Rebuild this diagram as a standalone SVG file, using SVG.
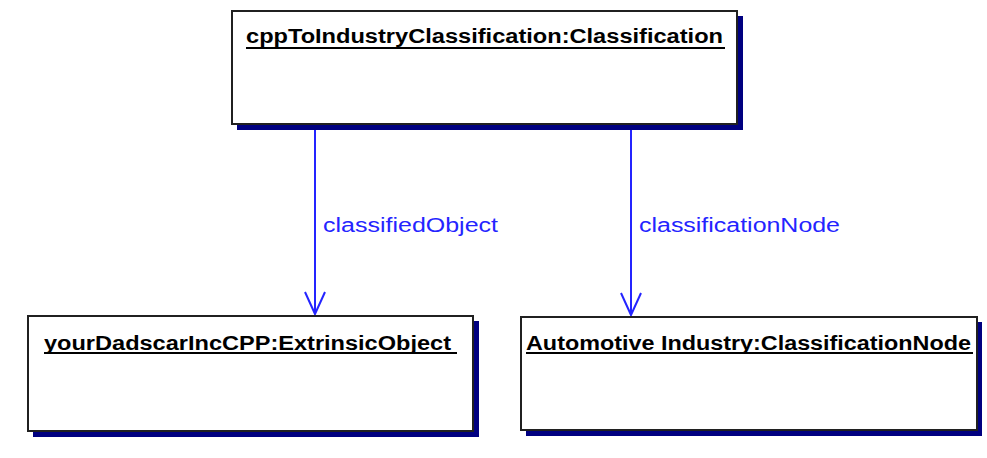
<svg xmlns="http://www.w3.org/2000/svg" width="987" height="458" viewBox="0 0 987 458">
  <style>
    .shadow { fill: #000080; }
    .box { fill: #ffffff; stroke: #202020; stroke-width: 2; }
    .title { font-family: "Liberation Sans", Arial, sans-serif; font-weight: bold; font-size: 20px; fill: #000000; }
    .uline { stroke: #000000; stroke-width: 2; }
    .link { stroke: #2424ff; stroke-width: 2; fill: none; }
    .lbl { font-family: "Liberation Sans", Arial, sans-serif; font-size: 20px; fill: #2424ff; }
  </style>
  <rect width="987" height="458" fill="#ffffff"/>

  <g id="connectors">
    <g id="classifiedObject">
      <line class="link" x1="315" y1="125" x2="315" y2="314"/>
      <polyline class="link" points="305,292 315,314 325,292"/>
      <text class="lbl" x="323" y="232" textLength="175" lengthAdjust="spacingAndGlyphs">classifiedObject</text>
    </g>
    <g id="classificationNode">
      <line class="link" x1="631" y1="125" x2="631" y2="315"/>
      <polyline class="link" points="621,293 631,315 641,293"/>
      <text class="lbl" x="639" y="232" textLength="201" lengthAdjust="spacingAndGlyphs">classificationNode</text>
    </g>
  </g>

  <g id="cppToIndustryClassification">
    <rect class="shadow" x="237" y="16" width="506" height="114"/>
    <rect class="box" x="232" y="11" width="505" height="113"/>
    <text class="title" x="246" y="43" textLength="477" lengthAdjust="spacingAndGlyphs">cppToIndustryClassification:Classification</text>
    <line class="uline" x1="246" y1="48" x2="725" y2="48"/>
  </g>

  <g id="yourDadscarIncCPP">
    <rect class="shadow" x="33" y="321" width="446" height="116"/>
    <rect class="box" x="28" y="316" width="445" height="115"/>
    <text class="title" x="44" y="350" textLength="407" lengthAdjust="spacingAndGlyphs">yourDadscarIncCPP:ExtrinsicObject</text>
    <line class="uline" x1="44" y1="353" x2="457" y2="353"/>
  </g>

  <g id="automotiveIndustry">
    <rect class="shadow" x="526" y="322" width="456" height="114"/>
    <rect class="box" x="521" y="317" width="456" height="113"/>
    <text class="title" x="526" y="350" textLength="445" lengthAdjust="spacingAndGlyphs">Automotive Industry:ClassificationNode</text>
    <line class="uline" x1="526" y1="353" x2="973" y2="353"/>
  </g>
</svg>
